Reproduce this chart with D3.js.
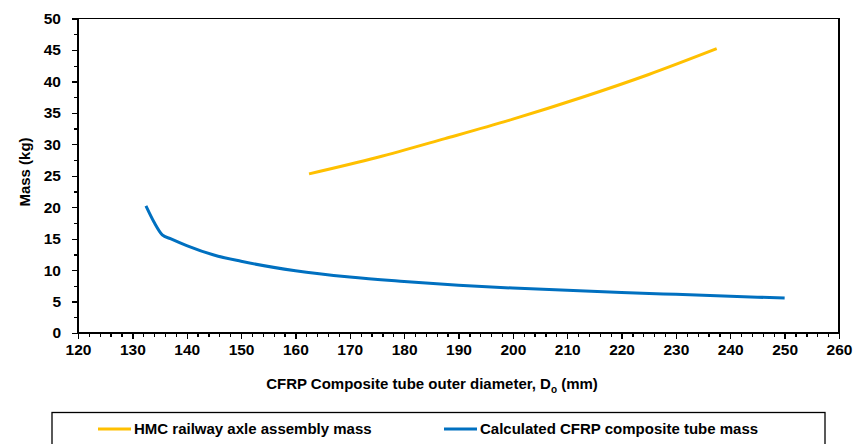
<!DOCTYPE html>
<meta charset="utf-8">
<style>
  body { margin: 0; background: #fff; }
  svg text { font-family: "Liberation Sans", Arial, sans-serif; font-weight: bold; fill: #000; }
  .axis path, .axis line { stroke: #000; stroke-width: 1.3; shape-rendering: crispEdges; }
  .axis text { font-size: 15.5px; }
</style>
<body>
<svg class="chart" width="857" height="444"></svg>
<script src="https://d3js.org/d3.v7.min.js"></script>
<script>

// Chart data
var xTicks = [120, 130, 140, 150, 160, 170, 180, 190, 200, 210, 220, 230, 240, 250, 260];
var yTicks = [0, 5, 10, 15, 20, 25, 30, 35, 40, 45, 50];

var hmcDiameter = [162.5, 175, 187.5, 200, 212.5, 225, 237.5];
var hmcMass     = [25.3, 27.9, 30.9, 34.0, 37.4, 41.1, 45.2];

var cfrpDiameter = [132.5, 134, 135.5, 137, 140, 145, 150, 160, 170, 180, 190, 200, 210, 220, 230, 240, 250];
var cfrpMass     = [20.2, 17.6, 15.6, 15.0, 13.9, 12.4, 11.4, 9.9, 8.9, 8.2, 7.6, 7.15, 6.8, 6.45, 6.15, 5.85, 5.55];

var seriesNames = ["HMC railway axle assembly mass", "Calculated CFRP composite tube mass"];
var seriesColors = ["#FFC000", "#0070C0"];

// Size and margins
var margin = { top: 18.5, left: 78, right: 18, bottom: 111 };
var width = 857 - margin.left - margin.right;
var height = 444 - margin.top - margin.bottom;

var svg = d3.select(".chart");
var chart = svg.append("g")
    .attr("transform", "translate(" + margin.left + "," + margin.top + ")");

var x = d3.scaleLinear().domain([120, 260]).range([0, width]);
var y = d3.scaleLinear().domain([0, 50]).range([height, 0]);

// minor ticks first so major ticks draw on top
chart.append("g")
    .attr("class", "axis")
    .attr("transform", "translate(0," + height + ")")
    .call(d3.axisBottom(x).tickValues(d3.range(120, 261, 2)).tickSize(4).tickFormat(""))
    .select(".domain").remove();
chart.append("g")
    .attr("class", "axis")
    .call(d3.axisLeft(y).tickValues(d3.range(0, 50.1, 2.5)).tickSize(4).tickFormat(""))
    .select(".domain").remove();

// plot frame (top and right)
chart.append("rect")
    .attr("width", width)
    .attr("height", height)
    .attr("fill", "none")
    .attr("stroke", "#000")
    .attr("stroke-width", 1.3)
    .style("shape-rendering", "crispEdges");

chart.append("g")
    .attr("class", "x axis")
    .attr("transform", "translate(0," + height + ")")
    .call(d3.axisBottom(x).tickValues(xTicks).tickSize(6).tickSizeOuter(0).tickPadding(5));

chart.append("g")
    .attr("class", "y axis")
    .call(d3.axisLeft(y).tickValues(yTicks).tickSize(6).tickSizeOuter(0).tickPadding(11));

// axis titles
var xTitle = svg.append("text")
    .attr("x", 432)
    .attr("y", 389)
    .attr("text-anchor", "middle")
    .style("font-size", "15px");
xTitle.append("tspan").text("CFRP Composite tube outer diameter, D");
xTitle.append("tspan").attr("dy", 4).style("font-size", "10px").text("o");
xTitle.append("tspan").attr("dy", -4).text(" (mm)");

svg.append("text")
    .attr("transform", "translate(30," + 172 + ") rotate(-90)")
    .attr("text-anchor", "middle")
    .style("font-size", "15px")
    .text("Mass (kg)");

// lines
var line = d3.line()
    .x(function(d) { return x(d[0]); })
    .y(function(d) { return y(d[1]); })
    .curve(d3.curveMonotoneX);

var series = [
  d3.zip(hmcDiameter, hmcMass),
  d3.zip(cfrpDiameter, cfrpMass)
];

chart.selectAll(".series")
    .data(series)
  .enter().append("path")
    .attr("class", "series")
    .attr("d", line)
    .attr("fill", "none")
    .attr("stroke", function(d, i) { return seriesColors[i]; })
    .attr("stroke-width", 3)
    .attr("stroke-linejoin", "round");

// legend
var legend = svg.append("g");
legend.append("rect")
    .attr("x", 52)
    .attr("y", 412.5)
    .attr("width", 773)
    .attr("height", 50)
    .attr("fill", "none")
    .attr("stroke", "#000")
    .attr("stroke-width", 1.3);

var legendX = [98, 444];
var item = legend.selectAll(".item")
    .data(seriesNames)
  .enter().append("g")
    .attr("class", "item")
    .attr("transform", function(d, i) { return "translate(" + legendX[i] + ",429)"; });
item.append("line")
    .attr("x1", 0).attr("x2", 33)
    .attr("stroke", function(d, i) { return seriesColors[i]; })
    .attr("stroke-width", 3);
item.append("text")
    .attr("x", 36)
    .attr("dy", "0.35em")
    .style("font-size", "15px")
    .text(function(d) { return d; });

</script>
</body>
